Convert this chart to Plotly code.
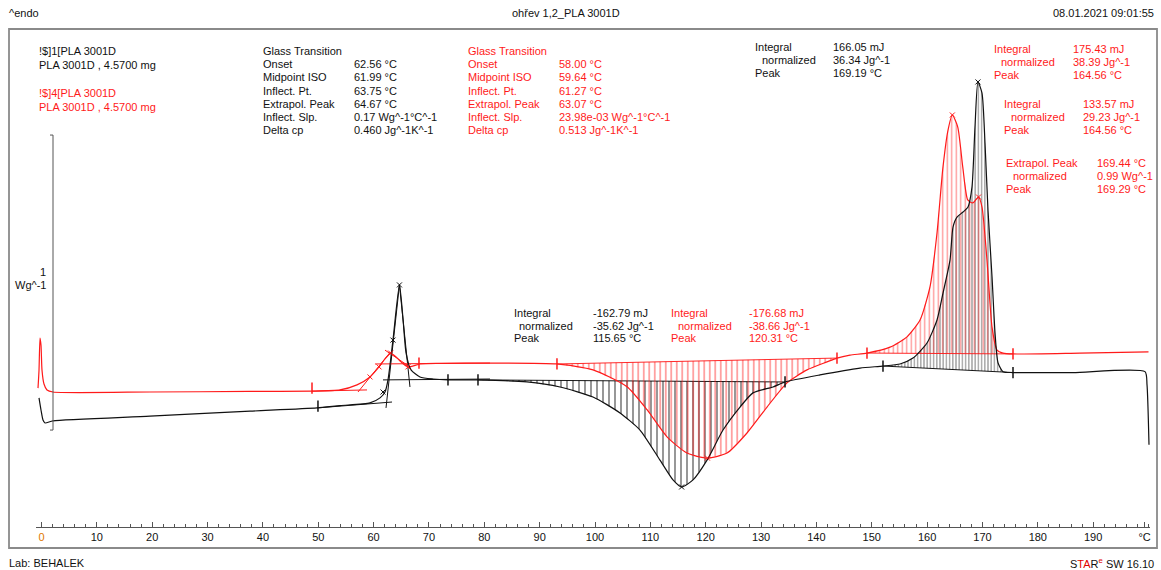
import plotly.graph_objects as go

W, H = 1161, 570
FONT = "Liberation Sans, Arial, sans-serif"
BLACK = "#111111"
RED = "#ff1a1a"

# ---- DSC curves: temperature (°C) and heat flow (W/g, endo up) ----
black_T = [-0.45, -0.09, 0.27, 0.63, 2.08, 19.60, 37.67, 49.77, 53.93, 59.35,
           61.16, 62.06, 62.60, 63.50, 64.67, 65.33, 65.87, 66.76, 68.38, 70.73,
           73.44, 78.86, 87.71, 93.68, 99.64, 104.52, 108.13, 111.74, 114.09, 115.65,
           117.71, 120.24, 123.13, 126.20, 128.55, 132.16, 134.33, 140.65, 147.88, 152.03,
           155.10, 157.45, 159.98, 161.79, 162.87, 164.14, 164.68, 165.40, 166.49, 167.39,
           168.11, 168.65, 169.19, 169.92, 170.46, 171.00, 171.73, 172.27, 172.81, 173.71,
           175.52, 186.36, 199.37, 199.73, 200.09]
black_q = [0.309, 0.268, 0.234, 0.224, 0.231, 0.247, 0.264, 0.275, 0.283, 0.292,
           0.309, 0.329, 0.370, 0.505, 0.692, 0.573, 0.461, 0.404, 0.380, 0.373,
           0.370, 0.370, 0.363, 0.346, 0.312, 0.258, 0.200, 0.098, 0.031, 0.007,
           0.031, 0.098, 0.200, 0.278, 0.326, 0.346, 0.363, 0.387, 0.410, 0.417,
           0.424, 0.444, 0.495, 0.573, 0.664, 0.776, 0.888, 0.922, 0.939, 0.956,
           1.024, 1.227, 1.380, 1.342, 1.173, 0.946, 0.719, 0.530, 0.428, 0.398,
           0.395, 0.395, 0.398, 0.354, 0.150]

red_T = [-0.63, -0.45, -0.27, -0.09, 0.09, 0.45, 0.99, 2.08, 19.60, 37.67,
         48.87, 53.93, 57.00, 59.35, 60.98, 62.06, 63.07, 64.05, 64.95, 66.21,
         68.38, 71.99, 81.03, 93.13, 99.64, 105.78, 109.40, 113.01, 116.62, 120.31,
         123.85, 127.46, 131.08, 134.69, 138.30, 141.91, 143.72, 146.07, 149.14, 153.30,
         156.37, 158.72, 160.52, 161.79, 162.87, 163.78, 164.56, 165.54, 166.44, 167.34,
         168.25, 169.29, 169.92, 170.82, 171.73, 172.63, 173.71, 175.52, 187.62, 200.00]
red_q = [0.342, 0.403, 0.512, 0.488, 0.403, 0.356, 0.336, 0.329, 0.329, 0.331,
         0.332, 0.336, 0.353, 0.380, 0.414, 0.441, 0.461, 0.448, 0.431, 0.414,
         0.424, 0.426, 0.427, 0.424, 0.404, 0.347, 0.269, 0.177, 0.122, 0.105,
         0.122, 0.190, 0.278, 0.360, 0.404, 0.431, 0.444, 0.454, 0.461, 0.481,
         0.516, 0.573, 0.685, 0.868, 1.092, 1.217, 1.268, 1.227, 1.092, 0.980,
         0.970, 0.990, 0.956, 0.776, 0.549, 0.471, 0.461, 0.458, 0.461, 0.465]

# ---- peak integration limits (start, end) ----
black_cryst = (78.86, 134.33)
black_melt = (152.03, 175.52)
red_cryst = (93.13, 143.72)
red_melt = (149.14, 175.52)

# ---- glass transition evaluation constructions ----
black_tg_lines = [
    ([49.77, 63.33], [0.275, 0.295]),
    ([61.70, 81.03], [0.370, 0.373]),
    ([62.24, 64.67], [0.275, 0.692]),
    ([64.67, 66.57], [0.692, 0.346]),
]
red_tg_lines = [
    ([48.87, 58.81], [0.332, 0.336]),
    ([57.18, 63.07], [0.329, 0.465]),
    ([62.06, 66.57], [0.471, 0.414]),
    ([60.25, 81.03], [0.424, 0.427]),
]
black_x_T = [61.70, 63.50, 64.67, 115.65, 169.19]
black_x_q = [0.329, 0.505, 0.692, 0.007, 1.380]
red_x_T = [59.35, 60.98, 63.07, 66.21, 120.31, 164.56, 169.29]
red_x_q = [0.380, 0.414, 0.461, 0.414, 0.105, 1.268, 0.990]
black_tick_T = [49.95, 73.44, 78.86, 134.33, 152.03, 175.52]
black_tick_q = [0.281, 0.370, 0.370, 0.363, 0.417, 0.395]
red_tick_T = [48.87, 68.20, 93.13, 143.72, 149.14, 175.52]
red_tick_q = [0.342, 0.427, 0.424, 0.444, 0.461, 0.458]

# ---- axis ----
tick_vals = list(range(0, 200, 10))
tick_text = ["<span style='color:#e07800'>0</span>"] + [str(v) for v in tick_vals[1:]]
unit_pos = 199.3


def px_to_T(px):
    return (px - 41.5) / 5.535


def px_to_q(py):
    return (489.05 - py) / 295.0


fig = go.Figure()


def segment(T, q, lo, hi):
    xs = [t for t in T if lo <= t <= hi]
    ys = [v for t, v in zip(T, q) if lo <= t <= hi]
    return xs, ys


def hatch(T, q, limits, color, size, solidity):
    lo, hi = limits
    xs, ys = segment(T, q, lo, hi)
    bx = [xs[-1], xs[0]]
    by = [ys[-1], ys[0]]
    fig.add_trace(go.Scatter(
        x=xs + bx + [xs[0]], y=ys + by + [ys[0]], mode="lines",
        line=dict(width=0), fill="toself", fillcolor="rgba(0,0,0,0)",
        fillpattern=dict(shape="|", fgcolor=color, bgcolor="rgba(0,0,0,0)",
                         size=size, solidity=solidity, fillmode="overlay"),
        hoverinfo="skip"))
    # baseline of the integration
    fig.add_trace(go.Scatter(x=[xs[0], xs[-1]], y=[ys[0], ys[-1]], mode="lines",
                             line=dict(color=color, width=1), hoverinfo="skip"))


hatch(black_T, black_q, black_cryst, "rgba(0,0,0,0.9)", 6, 0.3)
hatch(red_T, red_q, red_cryst, "rgba(255,20,20,0.9)", 5.5, 0.3)
hatch(black_T, black_q, black_melt, "rgba(0,0,0,0.9)", 3.2, 0.35)
hatch(red_T, red_q, red_melt, "rgba(255,20,20,0.9)", 4.5, 0.3)

for xs, ys in black_tg_lines:
    fig.add_trace(go.Scatter(x=xs, y=ys, mode="lines", line=dict(color=BLACK, width=1)))
for xs, ys in red_tg_lines:
    fig.add_trace(go.Scatter(x=xs, y=ys, mode="lines", line=dict(color=RED, width=1)))

fig.add_trace(go.Scatter(x=red_T, y=red_q, mode="lines", line=dict(color=RED, width=1.2, shape="spline", smoothing=0.6)))
fig.add_trace(go.Scatter(x=black_T, y=black_q, mode="lines", line=dict(color=BLACK, width=1.2, shape="spline", smoothing=0.6)))

fig.add_trace(go.Scatter(x=black_x_T, y=black_x_q, mode="markers",
                         marker=dict(symbol="x-thin", size=5, line=dict(width=1, color=BLACK))))
fig.add_trace(go.Scatter(x=red_x_T, y=red_x_q, mode="markers",
                         marker=dict(symbol="x-thin", size=5, line=dict(width=1, color=RED))))
fig.add_trace(go.Scatter(x=black_tick_T, y=black_tick_q, mode="markers",
                         marker=dict(symbol="line-ns", size=8, line=dict(width=1.5, color=BLACK))))
fig.add_trace(go.Scatter(x=red_tick_T, y=red_tick_q, mode="markers",
                         marker=dict(symbol="line-ns", size=8, line=dict(width=1.5, color=RED))))

# 1 W/g scale bar
fig.add_trace(go.Scatter(x=[px_to_T(50), px_to_T(53), px_to_T(53), px_to_T(50)],
                         y=[1.2, 1.2, 0.2, 0.2], mode="lines",
                         line=dict(color="#555555", width=1)))

ann = []


def txt(x, y, s, color=BLACK, anchor="left", size=11):
    ann.append(dict(x=x / W, y=1 - y / H, xref="paper", yref="paper", text=s,
                    showarrow=False, xanchor=anchor, yanchor="middle",
                    borderpad=0, font=dict(family=FONT, size=size, color=color)))


def block(x_lab, x_val, y0, dy, labels, values, color, indent=None):
    for i, (lab, val) in enumerate(zip(labels, values)):
        xl = x_lab
        if indent and lab.startswith("  "):
            xl = x_lab + indent
        txt(xl, y0 + i * dy, lab.strip(), color)
        if val:
            txt(x_val, y0 + i * dy, val, color)


# header / footer
txt(8, 13, "^endo")
txt(566, 13, "ohřev 1,2_PLA 3001D", anchor="center")
txt(1155, 13, "08.01.2021 09:01:55", anchor="right")
txt(8, 563, "Lab: BEHALEK")
txt(1155, 563, "S<span style='color:#e00000'>TA</span>R<sup><span style='color:#e00000'>e</span></sup> SW 16.10", anchor="right")

# sample legend
txt(38, 51, "!$]1[PLA 3001D")
txt(38, 65, "PLA 3001D , 4.5700 mg")
txt(38, 93, "!$]4[PLA 3001D", RED)
txt(38, 107, "PLA 3001D , 4.5700 mg", RED)

gt_labels = ["Glass Transition", "Onset", "Midpoint ISO", "Inflect. Pt.", "Extrapol. Peak", "Inflect. Slp.", "Delta cp"]
gt_black = ["", "62.56 °C", "61.99 °C", "63.75 °C", "64.67 °C", "0.17 Wg^-1°C^-1", "0.460 Jg^-1K^-1"]
gt_red = ["", "58.00 °C", "59.64 °C", "61.27 °C", "63.07 °C", "23.98e-03 Wg^-1°C^-1", "0.513 Jg^-1K^-1"]
block(262, 353, 51, 13.2, gt_labels, gt_black, BLACK)
block(467, 558, 51, 13.2, gt_labels, gt_red, RED)

int_labels = ["Integral", "  normalized", "Peak"]
block(754, 832, 47, 13, int_labels, ["166.05 mJ", "36.34 Jg^-1", "169.19 °C"], BLACK, indent=7)
block(993, 1072, 49, 13, int_labels, ["175.43 mJ", "38.39 Jg^-1", "164.56 °C"], RED, indent=7)
block(1003, 1082, 104, 13, int_labels, ["133.57 mJ", "29.23 Jg^-1", "164.56 °C"], RED, indent=7)
block(1005, 1096, 163, 13, ["Extrapol. Peak", "  normalized", "Peak"], ["169.44 °C", "0.99 Wg^-1", "169.29 °C"], RED, indent=7)
block(513, 592, 313, 12.5, int_labels, ["-162.79 mJ", "-35.62 Jg^-1", "115.65 °C"], BLACK, indent=5)
block(670, 748, 313, 12.5, int_labels, ["-176.68 mJ", "-38.66 Jg^-1", "120.31 °C"], RED, indent=7)

# scale bar label
txt(47, 272, "1", anchor="right")
txt(47, 285, "Wg^-1", anchor="right")

fig.update_layout(
    width=W, height=H, autosize=False,
    margin=dict(l=0, r=0, t=0, b=0),
    paper_bgcolor="white", plot_bgcolor="white",
    showlegend=False,
    annotations=ann,
    shapes=[dict(type="rect", xref="paper", yref="paper",
                 x0=9 / W, x1=1157 / W, y0=1 - 548 / H, y1=1 - 29 / H,
                 line=dict(color="#8a8a8a", width=1.8), layer="below")],
    xaxis=dict(domain=[36 / W, 1150 / W], range=[px_to_T(36), px_to_T(1150)],
               anchor="free", position=1 - 527 / H,
               showline=True, linecolor="#555555", linewidth=1,
               ticks="inside", ticklen=5, tickcolor="#555555", tickwidth=1,
               tickvals=tick_vals + [unit_pos], ticktext=tick_text + ["°C"],
               tickfont=dict(family=FONT, size=11, color=BLACK),
               showgrid=False, zeroline=False, fixedrange=True,
               minor=dict(dtick=2, tick0=0, ticks="inside", ticklen=3, tickcolor="#555555")),
    yaxis=dict(visible=False, range=[px_to_q(570), px_to_q(0)], domain=[0, 1],
               fixedrange=True),
)

fig.write_html("out.html")
